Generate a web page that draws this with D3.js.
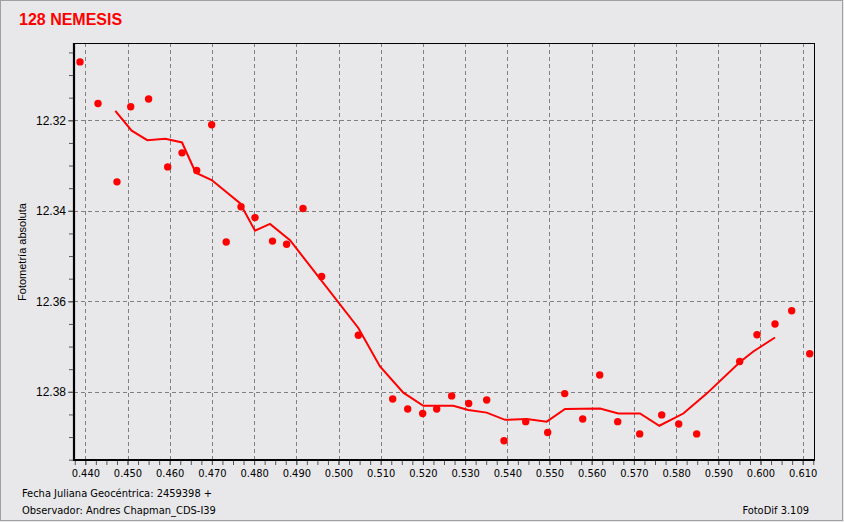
<!DOCTYPE html>
<html><head><meta charset="utf-8">
<script src="https://cdn.jsdelivr.net/npm/d3@7"></script>
<style>
html,body{margin:0;padding:0;background:#e8e8ea;}
svg{display:block;}
</style></head>
<body>
<svg id="c" width="844" height="522"></svg>
<script>
const title = "128 NEMESIS";
const yLabel = "Fotometría absoluta";
const footLeft1 = "Fecha Juliana Geocéntrica: 2459398 +";
const footLeft2 = "Observador: Andres Chapman_CDS-I39";
const footRight = "FotoDif 3.109";

const obsX = [0.43874,0.44301,0.44751,0.45076,0.45500,0.45952,0.46292,0.46640,0.46995,0.47339,
  0.47690,0.48021,0.48436,0.48770,0.49159,0.49600,0.50470,0.51284,0.51640,0.51995,
  0.52327,0.52682,0.53085,0.53512,0.53922,0.54436,0.54957,0.55360,0.55787,0.56190,
  0.56616,0.57137,0.57659,0.58062,0.58488,0.59507,0.59917,0.60344,0.60739,0.61166];
const obsY = [12.3071,12.3163,12.3336,12.3170,12.3153,12.3303,12.3272,12.3311,12.3210,12.3469,
  12.3391,12.3415,12.3467,12.3474,12.3395,12.3545,12.3675,12.3816,12.3838,12.3848,
  12.3838,12.3809,12.3826,12.3818,12.3908,12.3866,12.3890,12.3804,12.3860,12.3763,
  12.3866,12.3893,12.3851,12.3871,12.3893,12.3733,12.3674,12.3650,12.3621,12.3716];

const avgX = [0.44711,0.45099,0.45469,0.45896,0.46292,0.46616,0.46995,0.47666,0.48021,0.48377,
  0.48851,0.50470,0.50983,0.51536,0.52010,0.52720,0.53076,0.53512,0.53946,0.54460,
  0.54934,0.55368,0.56197,0.56631,0.57145,0.57602,0.58171,0.58725,0.59514,0.59830,0.60344];
const avgY = [12.3179,12.3223,12.3244,12.3241,12.3249,12.3316,12.3332,12.3383,12.3444,12.3429,
  12.3465,12.3659,12.3744,12.3802,12.3831,12.3831,12.3840,12.3846,12.3862,12.3860,
  12.3866,12.3838,12.3837,12.3848,12.3848,12.3875,12.3848,12.3804,12.3734,12.3711,12.3680];

const xMajor = d3.range(0,18).map(i => +(0.44 + i*0.01).toFixed(3));
const yMajor = [12.32,12.34,12.36,12.38];

const svg = d3.select("#c");
const L = 74, R = 815, T = 43, B = 460;
const x = d3.scaleLinear().domain([0.437322, 0.612915]).range([L, R]);
const y = d3.scaleLinear().domain([12.30292, 12.39507]).range([T, B]);

// outer frame
svg.append("rect").attr("x",0.5).attr("y",0.5).attr("width",842).attr("height",520)
  .attr("fill","#e8e8ea").attr("stroke","#a0a0a0");

// title
svg.append("text").attr("x",19).attr("y",25).text(title)
  .attr("font-family","Liberation Sans, Arial, sans-serif").attr("font-weight","bold")
  .attr("font-size",16).attr("fill","#ff0000");

// grid
const g = svg.append("g");
g.selectAll("line.vg").data(xMajor).join("line")
  .attr("x1",d=>Math.round(x(d))+0.5).attr("x2",d=>Math.round(x(d))+0.5)
  .attr("y1",T).attr("y2",B).attr("stroke","#808080").attr("stroke-dasharray","4,3");
g.selectAll("line.hg").data(yMajor).join("line")
  .attr("y1",d=>Math.round(y(d))+0.5).attr("y2",d=>Math.round(y(d))+0.5)
  .attr("x1",L).attr("x2",R).attr("stroke","#808080").attr("stroke-dasharray","4,3");

// frame of plot
svg.append("rect").attr("x",L+0.5).attr("y",T+0.5).attr("width",R-L-1).attr("height",B-T-1)
  .attr("fill","none").attr("stroke","#000");
svg.append("line").attr("x1",L).attr("x2",L).attr("y1",T).attr("y2",B+1).attr("stroke","#000").attr("stroke-width",2.2);
svg.append("line").attr("x1",L).attr("x2",R).attr("y1",B).attr("y2",B).attr("stroke","#000").attr("stroke-width",2.2);

// x axis
const xMinor = d3.range(0,71).map(i => 0.4375 + i*0.0025).filter(v => v <= 0.6129);
const xa = svg.append("g").attr("transform",`translate(0,${B+1})`)
  .call(d3.axisBottom(x).tickValues(xMinor).tickSize(4).tickFormat(""));
xa.select(".domain").remove();
xa.selectAll("line").attr("stroke","#555");
const xl = svg.append("g").attr("transform",`translate(0,${B+1})`)
  .call(d3.axisBottom(x).tickValues(xMajor).tickSize(4).tickPadding(4).tickFormat(d3.format(".3f")));
xl.select(".domain").remove();
xl.selectAll("line").attr("stroke","#555");
xl.selectAll("text").attr("font-family","DejaVu Sans Condensed, sans-serif").attr("font-size",11).attr("fill","#000");

// y axis
const yMinor = d3.range(0,19).map(i => 12.305 + i*0.005).filter(v => v <= 12.395);
const ya = svg.append("g").attr("transform",`translate(${L-1},0)`)
  .call(d3.axisLeft(y).tickValues(yMinor).tickSize(4).tickFormat(""));
ya.select(".domain").remove();
ya.selectAll("line").attr("stroke","#555");
const yl = svg.append("g").attr("transform",`translate(${L-1},0)`)
  .call(d3.axisLeft(y).tickValues(yMajor).tickSize(5).tickPadding(2).tickFormat(d3.format(".2f")));
yl.select(".domain").remove();
yl.selectAll("line").attr("stroke","#555");
yl.selectAll("text").attr("font-family","Liberation Sans, Arial, sans-serif").attr("font-size",12).attr("fill","#000");

// y label
svg.append("text").attr("transform","translate(26,252) rotate(-90)").attr("text-anchor","middle")
  .text(yLabel).attr("font-family","Liberation Sans, Arial, sans-serif").attr("font-size",11).attr("fill","#000");

// average line
const pts = avgX.map((v,i)=>[v, avgY[i]]);
svg.append("path").datum(pts)
  .attr("d", d3.line().x(d=>x(d[0])).y(d=>y(d[1])))
  .attr("fill","none").attr("stroke","#ff0000").attr("stroke-width",2);

// observations
svg.append("g").selectAll("circle").data(obsX.map((v,i)=>[v,obsY[i]])).join("circle")
  .attr("cx",d=>x(d[0])).attr("cy",d=>y(d[1])).attr("r",3.7).attr("fill","#ff0000");

// footer
const ft = {"font-family":"DejaVu Sans Condensed, sans-serif","font-size":11,"fill":"#000"};
function txt(s,xx,yy,anchor){const t=svg.append("text").attr("x",xx).attr("y",yy).text(s).attr("text-anchor",anchor||"start");for(const k in ft)t.attr(k,ft[k]);return t;}
txt(footLeft1,22,497);
txt(footLeft2,22,514);
txt(footRight,809,514,"end");
</script>
</body></html>
